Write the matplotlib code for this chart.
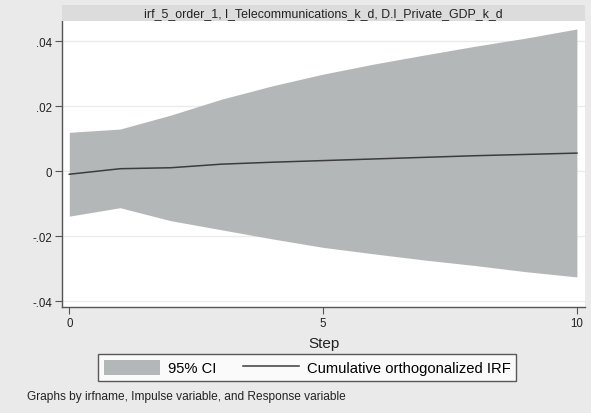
import numpy as np
import matplotlib
matplotlib.use('Agg')
import matplotlib.pyplot as plt
from matplotlib.patches import Rectangle

plt.rcParams['font.family'] = ['Liberation Sans', 'DejaVu Sans']

# values
steps    = [0, 1, 2, 3, 4, 5, 6, 7, 8, 9, 10]
irf      = [-0.0009, 0.0008, 0.0011, 0.0022, 0.0028, 0.0033, 0.0038, 0.0043, 0.0048, 0.0052, 0.0056]
ci_upper = [0.0120, 0.0130, 0.0173, 0.0222, 0.0263, 0.0299, 0.0330, 0.0358, 0.0385, 0.0410, 0.0438]
ci_lower = [-0.0138, -0.0112, -0.0152, -0.0180, -0.0208, -0.0234, -0.0254, -0.0273, -0.0290, -0.0309, -0.0325]

y_ticks   = [-0.04, -0.02, 0, 0.02, 0.04]
y_labels  = ['-.04', '-.02', '0', '.02', '.04']
x_ticks   = [0, 5, 10]
title_txt = 'irf_5_order_1, l_Telecommunications_k_d, D.l_Private_GDP_k_d'

W, H = 591, 414
fig = plt.figure(figsize=(W / 100, H / 100), dpi=100)
fig.patch.set_facecolor('#eaeaea')

def box(x0, y0, x1, y1):
    # pixel box (top-left origin) -> figure fraction rect
    return [x0 / W, 1 - y1 / H, (x1 - x0) / W, (y1 - y0) / H]

# title strip
fig.patches.append(Rectangle((62 / W, 1 - 22 / H), (585 - 62) / W, 16 / H,
                             transform=fig.transFigure, facecolor='#dcdcdc',
                             edgecolor='none', zorder=0))
fig.text((62 + 585) / 2 / W, 1 - 14.5 / H, title_txt, ha='center', va='center',
         fontsize=8.9, color='#222222')

ax = fig.add_axes(box(62, 22, 585, 308))
ax.set_facecolor('white')

band = ax.fill_between(steps, ci_lower, ci_upper, color='#b4b7b8', linewidth=0,
                       label='95% CI', zorder=2)
line, = ax.plot(steps, irf, color='#3c3c3c', linewidth=1.1,
                label='Cumulative orthogonalized IRF', zorder=3)

ax.set_xlim(-0.144, 10.16)
ax.set_ylim(-0.04175, 0.04625)
ax.set_yticks(y_ticks)
ax.set_yticklabels(y_labels)
ax.set_xticks(x_ticks)
ax.grid(axis='y', color='#ebebeb', linewidth=1.0, zorder=1)
ax.set_axisbelow(True)

for s in ['top', 'right']:
    ax.spines[s].set_visible(False)
for s in ['left', 'bottom']:
    ax.spines[s].set_color('#555555')
    ax.spines[s].set_linewidth(1.0)

ax.tick_params(axis='both', length=5, width=0.8, color='#555555',
               labelsize=8.3, labelcolor='#222222', pad=2)
ax.set_xlabel('Step', fontsize=11, color='#222222', labelpad=5)

leg = fig.legend(handles=[band, line], loc='center',
                 bbox_to_anchor=((93 + 521) / 2 / W, 1 - 368.5 / H),
                 ncol=2, frameon=True, fancybox=False, fontsize=10.6,
                 handlelength=3.8, handleheight=1.2, columnspacing=1.8,
                 borderpad=0.4, handletextpad=0.55)
leg.get_frame().set_edgecolor('#333333')
leg.get_frame().set_linewidth(1.0)
leg.get_frame().set_facecolor('white')

fig.text(27 / W, 1 - 397 / H, 'Graphs by irfname, Impulse variable, and Response variable',
         ha='left', va='center', fontsize=8.6, color='#222222')

fig.savefig('out.png', dpi=100, facecolor=fig.get_facecolor())
